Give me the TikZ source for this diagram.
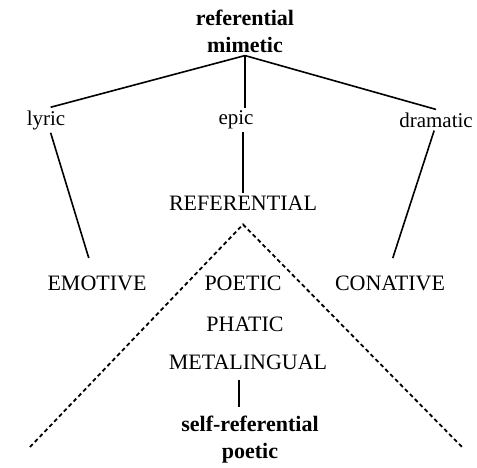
\documentclass[tikz,border=0pt]{standalone}
\usepackage{fontspec}
\setmainfont{Liberation Serif}
\usetikzlibrary{calc}

\tikzset{
  genre/.style={font=\fontsize{21}{25}\selectfont, inner sep=3pt},
  func/.style={font=\fontsize{22}{26}\selectfont, inner sep=3pt},
  mode/.style={font=\bfseries\fontsize{22}{27}\selectfont, align=center, inner sep=3pt},
  tree/.style={line width=1.6pt},
  triangle/.style={line width=1.8pt, dash pattern=on 4pt off 3pt}
}

\begin{document}
\begin{tikzpicture}[x=1pt,y=-1pt]
        \useasboundingbox (0,0) rectangle (477,467);

        \node[mode] (top) at (245,31) {referential\\mimetic};
        \node[genre] (lyric) at (46,120) {lyric};
        \node[genre] (epic) at (236,120) {epic};
        \node[genre] (dramatic) at (436,120) {dramatic};

        \node[func] (ref) at (243,203) {REFERENTIAL};
        \node[func] (emot) at (97,283) {EMOTIVE};
        \node[func] (poet) at (243,283) {POETIC};
        \node[func] (conat) at (390,283) {CONATIVE};
        \node[func] (phat) at (245,324) {PHATIC};
        \node[func] (meta) at (248,362) {METALINGUAL};
        \node[mode] (self) at (250,440) {self-referential\\poetic};

        \draw[tree](top.south)--(lyric.70);
        \draw[tree](top.south)--(top.south |- epic.north);
        \draw[tree](top.south)--(dramatic.north);

        \draw[tree,shorten >=15pt](lyric.-70)--(emot.110);
        \draw[tree](epic.south -| ref.north)--(ref.north);
        \draw[tree,shorten >=15pt](dramatic.-100)--(conat.100);
        \draw[tree,shorten <=7pt,shorten >=6pt](meta.south -| 239,0)--(self.north -| 239,0);

        % dashed triangle under REFERENTIAL
        \coordinate (lowL) at (30,447);
        \coordinate (lowR) at (463,448);
        \draw[triangle](lowL)--([yshift=-11pt]ref.south)--(lowR);
\end{tikzpicture}
\end{document}
